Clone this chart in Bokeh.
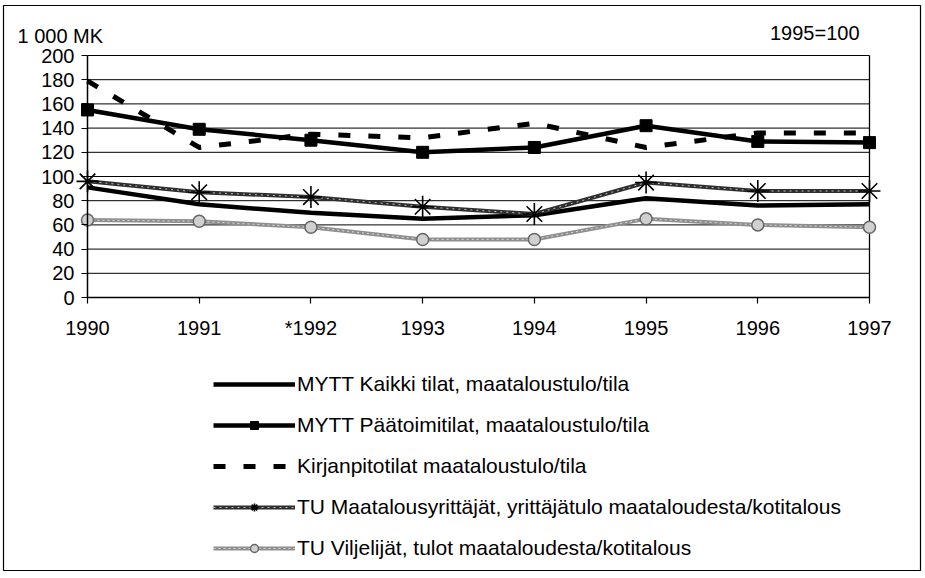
from bokeh.plotting import figure
from bokeh.models import Legend, LegendItem, Label, FixedTicker, Range1d
from bokeh.embed import file_html
from bokeh.resources import INLINE

# ---- data ----
years = [1990, 1991, 1992, 1993, 1994, 1995, 1996, 1997]
year_labels = ["1990", "1991", "*1992", "1993", "1994", "1995", "1996", "1997"]
y_ticks = [0, 20, 40, 60, 80, 100, 120, 140, 160, 180, 200]

kaikki_tilat = [91, 77, 70, 65, 68, 82, 76, 77]
paatoimitilat = [155, 139, 130, 120, 124, 142, 129, 128]
kirjanpitotilat = [179, 124, 135, 132, 144, 124, 136, 136]
tu_maatalousyrittajat = [96, 87, 83, 75, 69, 95, 88, 88]
tu_viljelijat = [64, 63, 58, 48, 48, 65, 60, 58]

names = [
    "MYTT Kaikki tilat, maataloustulo/tila",
    "MYTT Päätoimitilat, maataloustulo/tila",
    "Kirjanpitotilat maataloustulo/tila",
    "TU Maatalousyrittäjät, yrittäjätulo maataloudesta/kotitalous",
    "TU Viljelijät, tulot maataloudesta/kotitalous",
]

FONT = "Liberation Sans"

# ---- layout (page pixels) ----
W, H = 925, 578
FL, FT, FR, FB = 3, 5, 920, 570          # outer frame box
PX_LEFT, PX_RIGHT = 87, 869              # where 1990 and 1997 sit
PX_TOP, PX_BOTTOM = 55, 297              # where 200 and 0 sit
x0, x1 = years[0], years[-1]
y0, y1 = y_ticks[0], y_ticks[-1]
kx = (PX_RIGHT - PX_LEFT) / (x1 - x0)
ky = (PX_BOTTOM - PX_TOP) / (y1 - y0)
x_start = x0 - (PX_LEFT - FL) / kx
x_end = x1 + (FR - PX_RIGHT) / kx
y_end = y1 + (PX_TOP - FT) / ky
y_start = y0 - (FB - PX_BOTTOM) / ky


def px_to_x(px):
    return x_start + (px - FL) / kx


def py_to_y(py):
    return y_end - (py - FT) / ky


p = figure(width=W, height=H,
           x_range=Range1d(x_start, x_end), y_range=Range1d(y_start, y_end),
           output_backend="svg", toolbar_location=None, min_border=0,
           min_border_left=FL, min_border_top=FT,
           min_border_right=W - FR, min_border_bottom=H - FB)
p.background_fill_color = "white"
p.border_fill_color = "white"
p.outline_line_color = "black"
p.outline_line_width = 1.2

# axes fixed at the data origin
xa = p.xaxis[0]
ya = p.yaxis[0]
xa.fixed_location = y0
ya.fixed_location = x0
xa.bounds = (x0, x1)
ya.bounds = (y0, y1)
xa.ticker = FixedTicker(ticks=years)
xa.major_label_overrides = {y: l for y, l in zip(years, year_labels)}
ya.ticker = FixedTicker(ticks=y_ticks)
for ax in (xa, ya):
    ax.axis_line_color = "black"
    ax.axis_line_width = 1.5
    ax.major_tick_line_color = "black"
    ax.major_tick_line_width = 1.2
    ax.major_tick_out = 6
    ax.major_tick_in = 0
    ax.minor_tick_line_color = None
    ax.major_label_text_font = FONT
    ax.major_label_text_font_size = "20px"
    ax.major_label_text_color = "black"
xa.major_label_standoff = 13
ya.major_label_standoff = 7

p.xgrid.visible = False
p.ygrid.visible = False

# horizontal gridlines (ending at 1990 and 1997) and the right edge at 1997
n = len(y_ticks)
p.segment(x0=[x0] * n, y0=y_ticks, x1=[x1] * n, y1=y_ticks,
          line_color="black", line_width=1)
p.segment(x0=[x1], y0=[y0], x1=[x1], y1=[y1], line_color="black", line_width=1.3)

# series
r1 = p.line(years, kaikki_tilat, line_color="black", line_width=4.5)

r2 = p.line(years, paatoimitilat, line_color="black", line_width=4.5)
r2m = p.scatter(years, paatoimitilat, marker="square", size=12,
                fill_color="black", line_color="black")

r3 = p.line(years, kirjanpitotilat, line_color="black", line_width=5,
            line_dash="12 18")

r4 = p.line(years, tu_maatalousyrittajat, line_color="#2e2e2e", line_width=4)
r4b = p.line(years, tu_maatalousyrittajat, line_color="#bbbbbb", line_width=1,
             line_dash="2 4")
r4m = p.scatter(years, tu_maatalousyrittajat, marker="asterisk", size=22,
                line_color="black", line_width=1.6)

r5 = p.line(years, tu_viljelijat, line_color="#8f8f8f", line_width=4)
r5b = p.line(years, tu_viljelijat, line_color="#d8d8d8", line_width=1,
             line_dash="2 3")
r5m = p.scatter(years, tu_viljelijat, marker="circle", size=12,
                fill_color="#d0d0d0", line_color="#666666", line_width=1.5)

legend = Legend(items=[
    LegendItem(label=names[0], renderers=[r1]),
    LegendItem(label=names[1], renderers=[r2, r2m]),
    LegendItem(label=names[2], renderers=[r3]),
    LegendItem(label=names[3], renderers=[r4, r4b, r4m]),
    LegendItem(label=names[4], renderers=[r5, r5b, r5m]),
], location=(213 - FL, 10))
legend.orientation = "vertical"
legend.glyph_width = 82
legend.glyph_height = 20
legend.label_height = 20
legend.spacing = 17
legend.padding = 0
legend.margin = 0
legend.label_standoff = 2
legend.label_text_font = FONT
legend.label_text_font_size = "21px"
legend.label_text_color = "black"
legend.border_line_color = None
legend.background_fill_alpha = 0
p.add_layout(legend, "center")

# header texts
p.add_layout(Label(x=px_to_x(17), y=py_to_y(35.5), text="1 000 MK",
                   text_font=FONT, text_font_size="20px", text_baseline="middle",
                   text_align="left", text_color="black"))
p.add_layout(Label(x=px_to_x(859), y=py_to_y(32), text="1995=100",
                   text_font=FONT, text_font_size="20px", text_baseline="middle",
                   text_align="right", text_color="black"))

open("out.html", "w").write(file_html(p, INLINE))
